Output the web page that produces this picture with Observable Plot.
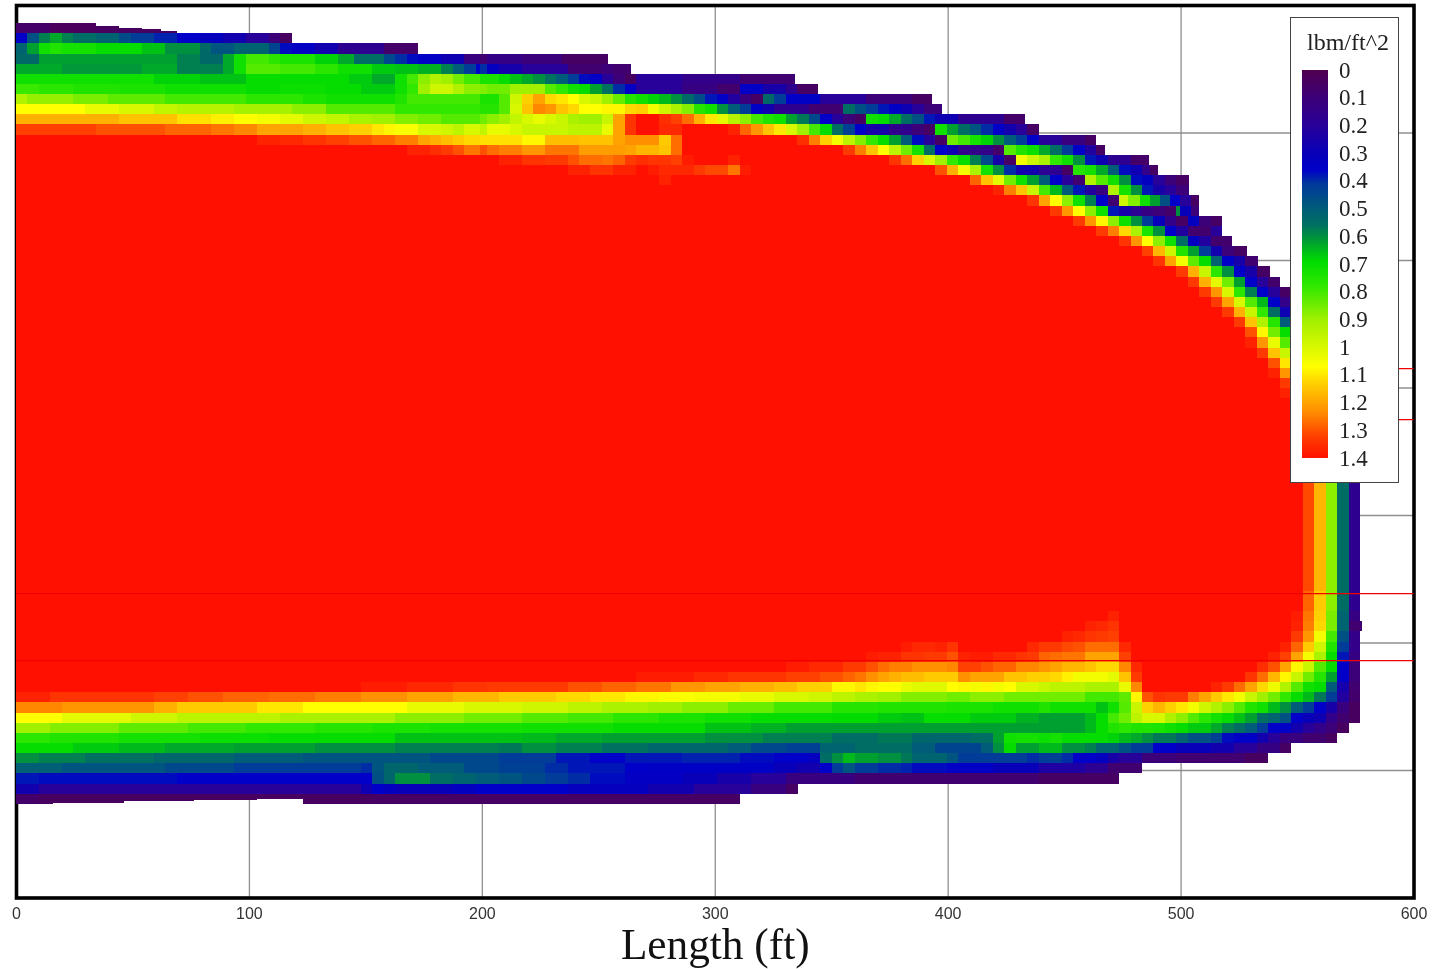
<!DOCTYPE html>
<html>
<head>
<meta charset="utf-8">
<script src="https://cdn.jsdelivr.net/npm/d3@7"></script>
<script src="https://cdn.jsdelivr.net/npm/@observablehq/plot@0.6"></script>
<style>
html,body{margin:0;padding:0;background:#fff}
#wrap{position:relative;width:1443px;height:969px;overflow:hidden;filter:blur(0.45px)}
#legend{position:absolute;left:1290px;top:17px;width:107px;height:464px;background:#fff;border:1.5px solid #444;font-family:"Liberation Serif",serif;color:#222}
#legend span{position:absolute;white-space:nowrap;line-height:1}
#legend .bar{position:absolute;left:10.5px;top:52px;width:26px;height:388px}
</style>
</head>
<body>
<div id="wrap"></div>
<script>
// Each row lists pairs: end column (exclusive), value in lbm/ft^2. Rows run from the top of the mesh down.
const r00=[3,.06,7,.03,9,.04,11,.04,12.6,.04,14,.04];
const r01=[1,.36,2,.47,3,.58,4,.63,5,.58,7,.55,9,.52,10,.46,12,.42,14,.39,16,.36,18,.32,20,.27,22,.2,23,.1,24,.04];
const r02=[1,.52,2,.62,3,.72,4,.75,7,.73,11,.7,13,.66,16,.6,17,.54,19,.48,22,.52,23,.44,24,.37,26,.34,28,.27,32,.17,35,.06];
const r03=[2,.54,14,.62,16,.58,18,.54,19,.63,20,.72,22,.8,23,.77,26,.74,28,.68,29.4,.63,32,.55,33,.45,34,.4,35,.37,37,.35,39,.28,40.4,.12,41,.08,44,.14,47.5,.11,51.5,.05];
const r04=[4,.63,11,.61,14,.63,18,.58,19,.63,20,.72,23,.82,26,.8,28,.77,31,.72,33,.67,35,.66,37,.64,38,.58,39,.5,40,.42,40.4,.36,41,.4,42,.33,44,.26,48,.2,51,.08,52,.1,53.5,.08];
const r05=[12,.72,16,.68,20,.66,29,.7,31,.67,33,.63,34,.72,35,.8,36,.88,37,.93,38,.9,39,.85,40.4,.8,42,.74,43,.7,44,.66,45,.63,46,.6,47,.56,48,.5,49,.42,50,.37,51,.35,52,.2,53,.1,54,.04,58,.2,63,.15,67.8,.08];
const r06=[2,.79,5,.77,9,.75,13,.74,20,.72,23,.7,27,.71,30,.7,33,.67,34,.72,35,.78,36,.9,38,.98,39,.93,40.4,.88,41,.87,43,.85,46,.9,47,.82,48,.78,49,.72,50,.7,51,.62,52,.56,53,.4,54,.35,58,.2,61,.13,63,.07,65,.35,67,.25,68,.17,69.8,.05];
const r07=[1,.93,5,.89,8,.86,13,.83,20,.8,25,.77,27,.74,33,.72,34,.75,40.4,.8,42,.74,43,.82,44,.98,45,1.13,46,1.2,47,1.12,48,1.1,49,1.07,50,1.0,51,.97,52,.9,53,.84,54,.76,55,.72,56,.68,57,.65,58,.6,59,.54,60,.46,61,.38,62,.35,63,.22,64,.12,65,.05,66,.54,67,.42,68,.36,70,.35,74,.2,78,.1,79.7,.05];
const r08=[6,1.07,9,1.03,12,1.0,14,.96,19,.94,24,.91,27,.88,33,.82,40.4,.78,42,.76,43,.82,44,1.0,45,1.15,46,1.24,47,1.22,48,1.15,49,1.12,51,1.07,53,1.08,54,1.12,55,1.13,56,1.05,57,.98,58,.92,59,.87,60,.76,61,.72,62,.6,63,.5,64,.42,65,.35,66,.27,69,.17,72,.08,73,.55,74,.47,75,.42,76,.38,77,.35,78,.28,79,.2,80.6,.1];
const r09=[9,1.18,14,1.15,17,1.11,19,1.09,21,1.07,23,1.05,25,1.02,27,.98,29,.96,31,.92,33,.9,35,.87,37,.85,40.4,.82,41,.85,42,.88,43,.9,44,.96,45,1.0,46,1.03,47,1.0,48,.97,49,.92,51,.9,52,.97,53,1.2,54,1.34,56,1.4,57,1.35,58,1.32,59,1.27,60,1.18,61,1.1,62,1.02,63,.94,64,.88,65,.8,66,.75,67,.72,68,.62,69,.57,70,.45,71,.36,72,.2,73,.1,74,.05,75,.72,76,.7,77,.63,78,.55,79,.47,80,.38,82,.28,86,.17,87.8,.06];
const r10=[7,1.32,13,1.3,17,1.28,19,1.26,21,1.24,25,1.2,27,1.18,29,1.15,31,1.13,32,1.1,33,1.08,35,1.06,37,1.0,38,.98,39,.95,40.4,1.0,41,.96,43,1.03,44,1.0,48,.97,51,.95,52,1.03,53,1.2,54,1.34,56,1.4,58,1.36,62,1.4,63,1.37,64,1.28,65,1.22,66,1.15,67,1.1,68,1.0,69,.9,70,.8,71,.7,72,.55,73,.43,74,.36,76,.25,78,.16,79,.1,80,.05,81,.72,82,.62,83,.55,84,.48,85,.4,86,.36,87,.27,88,.2,89,.05];
const r11=[21,1.4,23,1.37,25,1.36,27,1.34,29,1.32,31,1.3,33,1.28,35,1.25,36,1.2,37,1.18,38,1.16,39,1.14,40.4,1.12,44,1.11,46,1.08,49,1.16,52,1.15,53,1.2,56,1.23,57,1.14,58,1.27,68,1.4,69,1.35,70,1.25,71,1.13,72,1.05,73,.95,74,.87,75,.78,76,.7,77,.62,78,.5,79,.37,80,.2,81,.05,82,.85,83,.8,84,.73,85,.68,86,.6,87,.5,88,.42,89,.36,91,.2,93,.12,94,.05];
const r12=[34,1.4,36,1.37,37,1.35,38,1.33,39,1.3,40.4,1.26,41,1.3,42,1.27,44,1.25,46,1.22,49,1.26,53,1.21,54,1.2,56,1.17,57,1.15,58,1.27,72,1.4,73,1.33,74,1.25,75,1.15,76,1.07,77,.95,78,.85,79,.73,80,.55,81,.36,82,.28,85,.15,86,.06,87,.82,88,.75,89,.71,90,.63,91,.55,92,.42,93,.36,94,.22,94.8,.05];
const r13=[42,1.4,44,1.37,46,1.34,48,1.33,49,1.3,51,1.27,52,1.26,53,1.28,54,1.33,55,1.35,57,1.34,58,1.32,59,1.38,62,1.4,63,1.37,76,1.4,77,1.34,78,1.27,79,1.13,80,1.0,81,.9,82,.78,83,.7,84,.58,85,.45,86,.25,87,.05,88,1.05,89,.98,90,.92,91,.78,92,.72,93,.6,94,.38,95,.28,97,.17,98.6,.06];
const r14=[48,1.4,50,1.37,52,1.34,54,1.37,55,1.4,56,1.38,59,1.36,60,1.33,62,1.31,63,1.26,64,1.38,80,1.4,81,1.3,82,1.18,83,1.05,84,.92,85,.73,86,.6,87,.4,89,.27,91,.18,92,.05,93,.76,94,.73,95,.63,96,.5,97,.37,98,.28,98.7,.15,99.4,.05];
const r15=[56,1.4,57,1.37,83,1.4,84,1.28,85,1.15,86,1.02,87,.85,88,.72,89,.62,90,.5,91,.36,92,.2,93,.08,94,.93,95,.82,96,.72,97,.6,98,.37,99,.33,100,.2,101,.1,102.1,.05];
const r16=[85,1.4,86,1.37,87,1.25,88,1.15,89,.97,90,.8,91,.65,92,.5,93,.38,94,.22,95,.12,96,.93,97,.73,98,.6,99,.38,100,.25,101,.2,102.1,.1];
const r17=[88,1.4,89,1.34,90,1.2,91,1.07,92,.88,93,.72,94,.58,95,.36,96,.08,96.8,.98,97.8,.87,98.7,.72,99.6,.62,100.4,.47,101.3,.36,102.3,.2,103,.05];
const r18=[90,1.4,91,1.33,92,1.22,93,1.07,94,.88,95,.72,96,.38,97,.25,98,.18,99,.13,100,.1,101,.06,101.3,.6,102.3,.3,103,.1];
const r19=[92,1.4,93,1.33,94,1.22,95,1.08,96,.88,97,.72,98,.6,99,.42,100,.3,101,.15,102,.05,103,.33,104,.1,105,.05];
const r20=[94,1.4,95,1.33,96,1.25,97,1.12,98,.92,99,.74,100,.6,101,.36,102,.22,104,.07,105,.2];
const r21=[96,1.4,97,1.34,98,1.22,99,1.07,100,.88,101,.72,102,.55,103,.33,104,.22,105.8,.07];
const r22=[98,1.4,99,1.32,100,1.17,101,.98,102,.75,103,.62,104,.42,105,.27,106,.1,107.1,.05];
const r23=[99,1.4,100,1.34,101,1.2,102,1.05,103,.83,104,.7,105,.52,106,.35,107,.25,108.1,.08];
const r24=[101,1.4,102,1.33,103,1.18,104,.97,105,.77,106,.6,107,.36,108,.25,109.1,.05];
const r25=[102,1.4,103,1.33,104,1.18,105,1.02,106,.85,107,.62,108,.36,109,.2,110,.07];
const r26=[103,1.4,104,1.33,105,1.22,106,1.0,107,.77,108,.58,109,.36,110,.2,110.9,.05];
const r27=[104,1.4,105,1.33,106,1.2,107,1.0,108,.82,109,.65,110,.36,110.9,.15];
const r28=[105,1.4,106,1.33,107,1.18,108,.97,109,.78,110,.55,111,.28];
const r29=[106,1.4,107,1.33,108,1.15,109,.93,110,.76,111,.5];
const r30=[107,1.4,108,1.3,109,1.08,110,.85,111,.7];
const r31=[107,1.4,108,1.37,109,1.22,110,1.03,111,.82];
const r32=[108,1.4,109,1.33,110,1.15,111,.97];
const r33=[109,1.4,110,1.3,111,1.1];
const r34=[109,1.4,110,1.37,111,1.22];
const r35=[110,1.4,111,1.33];
const r36=[110,1.4,111,1.37];
const rFlank=[112,1.4,113,1.31,114,1.17,115,.88,116,.55,117,.17];
const r56=[112,1.4,113,1.28,114,1.14,115,.88,116,.55,117,.17];
const r58=[95,1.4,96,1.37,111,1.4,112,1.38,113,1.26,114,1.13,115,.86,116,.52,117,.13];
const r59=[93,1.4,94,1.37,95,1.36,96,1.34,111,1.4,112,1.37,113,1.25,114,1.12,115,.86,116,.52,117.15,.08];
const r60=[91,1.4,92,1.37,93,1.36,94,1.34,95,1.33,96,1.32,111,1.4,112,1.33,113,1.22,114,1.05,115,.8,116,.47,117,.15];
const r61=[77,1.4,78,1.38,80,1.36,81,1.37,82,1.34,88,1.4,89,1.36,91,1.33,92,1.31,93,1.3,96,1.27,97,1.36,110,1.4,111,1.37,112,1.28,113,1.14,114,.98,115,.75,116,.42,117,.15];
const r62=[74,1.4,75,1.38,77,1.37,79,1.34,81,1.33,82,1.3,83,1.37,85,1.38,87,1.36,88,1.34,89,1.33,90,1.28,91,1.27,93,1.26,96,1.2,97,1.32,109,1.4,110,1.37,111,1.32,112,1.2,113,1.05,114,.92,115,.7,116,.38,117,.13];
const r63=[67,1.4,69,1.38,72,1.36,74,1.33,75,1.3,76,1.27,78,1.25,81,1.23,82,1.24,84,1.32,85,1.3,87,1.28,89,1.24,90,1.22,91,1.2,93,1.17,94,1.15,96,1.12,97,1.24,98,1.36,108,1.4,109,1.35,110,1.3,111,1.2,112,1.08,113,.97,114,.82,115,.7,116,.36,117,.1];
const r64=[54,1.4,59,1.38,62,1.36,67,1.34,70,1.32,72,1.3,73,1.28,74,1.26,75,1.23,76,1.2,77,1.18,79,1.16,82,1.14,83,1.23,86,1.2,88,1.15,90,1.13,91,1.12,92,1.09,95,1.05,96,1.02,97,1.15,98,1.33,107,1.4,108,1.34,109,1.27,110,1.17,111,1.08,112,.97,113,.85,114,.76,115,.62,116,.36,117,.1];
const r65=[30,1.4,34,1.38,38,1.36,41,1.34,48,1.33,51,1.3,54,1.28,57,1.26,60,1.22,63,1.2,66,1.18,68,1.16,71,1.13,73,1.08,74,1.1,75,1.08,77,1.07,78,1.03,81,1.01,82,1.07,83,1.08,84,1.05,85,1.08,86,1.05,87,1.07,89,1.0,90,.97,93,.95,96,.92,97,1.03,98,1.24,104,1.4,105,1.37,106,1.33,107,1.27,108,1.2,109,1.12,110,1.04,111,.93,112,.82,113,.72,114,.7,115,.5,116,.26,117,.08];
const r66=[3,1.37,12,1.34,15,1.32,18,1.3,22,1.28,26,1.27,30,1.25,34,1.23,38,1.2,42,1.17,47,1.14,50,1.12,53,1.1,56,1.08,59,1.06,63,1.05,66,1.03,69,1.0,71,.98,73,.95,75,.92,77,.9,81,.87,83,.85,86,.88,89,.85,93,.85,96,.8,97,.83,98,1.08,99,1.3,100,1.34,102,1.33,103,1.25,104,1.2,105,1.14,106,1.1,107,1.05,108,.97,109,.9,110,.85,111,.78,112,.7,113,.65,114,.57,115,.42,116,.22,117,.07];
const r67=[4,1.24,12,1.22,14,1.18,21,1.14,25,1.1,34,1.07,39,1.03,44,1.0,48,.98,51,.95,55,.92,58,.9,62,.88,66,.84,71,.8,75,.76,81,.75,85,.74,89,.72,90,.75,94,.72,95,.66,96,.72,97,.82,98,.97,99,1.13,100,1.17,101,1.13,102,1.1,103,1.05,104,.98,105,.93,106,.88,107,.82,108,.75,109,.72,110,.65,111,.6,112,.5,113,.42,114,.36,115,.25,116,.12,117,.04];
const r68=[4,1.07,10,1.02,14,.98,23,.95,33,.92,39,.88,44,.85,48,.82,52,.8,56,.77,60,.74,64,.72,71,.7,75,.69,77,.67,79,.66,83,.7,87,.67,89,.64,93,.62,94,.65,95,.7,96,.8,97,.85,98,.95,99,1.0,100,1.0,101,.93,102,.88,103,.82,104,.77,105,.73,106,.7,107,.66,108,.62,109,.55,110,.52,111,.47,112,.36,113,.3,114,.28,115,.15,116,.08,117,.04];
const r69=[3,.9,9,.87,15,.83,20,.8,26,.78,31,.76,36,.74,44,.73,52,.72,60,.7,64,.66,67,.64,89,.62,93,.62,94,.65,95,.7,96,.75,97,.77,99,.75,100,.74,101,.72,102,.7,104,.67,105,.63,106,.58,107,.55,108,.5,109,.42,110,.36,111,.35,112,.27,113,.2,114,.15,115,.1,116,.04];
const r70=[3,.77,9,.75,16,.73,22,.71,33,.7,44,.66,47,.65,51,.63,60,.62,65,.6,71,.58,75,.55,78,.57,83,.53,85,.55,86,.62,87,.72,89,.73,90,.71,91,.73,95,.7,96,.68,97,.65,98,.63,99,.6,101,.57,102,.52,104,.47,105,.43,106,.37,108,.35,109,.27,110,.2,112,.12,114,.08,115,.04];
const r71=[5,.7,9,.67,13,.65,19,.63,26,.62,33,.6,42,.58,44,.57,47,.6,51,.58,55,.56,62,.53,64,.5,67,.45,70,.43,73,.52,78,.55,80,.5,84,.44,85,.5,86,.6,87,.7,89,.62,91,.65,93,.6,94,.58,96,.52,97,.47,99,.42,101,.36,104,.3,106,.27,108,.2,110,.13,111,.05];
const r72=[2,.6,6,.58,12,.56,19,.53,25,.5,36,.48,42,.45,47,.42,50,.38,53,.36,58,.38,63,.39,66,.37,69,.36,70,.33,71,.55,72,.6,73,.65,75,.62,77,.6,78,.57,81,.52,82,.48,88,.42,89,.4,90,.42,91,.43,92,.4,94,.36,95,.33,96,.25,98,.2,101,.1,107,.08,109,.04];
const r73=[4,.51,13,.48,19,.45,30,.42,31,.4,32,.48,35,.53,39,.5,42,.45,46,.43,48,.4,53,.38,55,.36,66,.35,68,.3,70,.27,71,.36,72,.42,73,.48,75,.42,77,.4,78,.39,81,.37,85,.35,89,.3,93,.23,95,.18,98,.08];
const r74=[2,.38,14,.37,31,.36,32,.47,33,.53,36,.6,38,.55,40,.52,42,.5,44,.48,46,.45,48,.42,50,.4,53,.37,58,.34,61,.3,64,.25,67,.2,73,.12,89,.08,96,.05];
const r75=[2,.27,30,.2,31,.28,32,.36,33,.33,38,.3,40,.33,48,.36,55,.32,59,.27,64,.2,67,.12,68.1,.05];
const r76=[2,.06,3.2,.04,9.4,.04,15.5,.04,21,.04,25,.04,31,.04,63,.05];

const rows=[r00,r01,r02,r03,r04,r05,r06,r07,r08,r09,r10,r11,r12,r13,r14,r15,r16,r17,r18,r19,r20,r21,r22,r23,r24,r25,r26,r27,r28,r29,r30,r31,r32,r33,r34,r35,r36,
  rFlank,rFlank,rFlank,rFlank,rFlank,rFlank,rFlank,rFlank,rFlank,rFlank,rFlank,rFlank,rFlank,rFlank,rFlank,rFlank,rFlank,rFlank,rFlank,
  r56,r56,r58,r59,r60,r61,r62,r63,r64,r65,r66,r67,r68,r69,r70,r71,r72,r73,r74,r75,r76];

// Ragged outer edge: [end column, how far the edge is drawn in, ft]
const topEdge=[[9,1.2],[11,2.0],[12.6,2.5],[14,3.1]];
const bottomEdge=[[9.4,.3],[15.5,.9],[21,1.4],[25,1.9]];

const colWidthFt=4.933, rowHeightFt=3.976, meshTopFt=342.9;
const xTicks=[0,100,200,300,400,500,600];
const yTicks=[0,50,100,150,200,250,300,350];
const legendLabels=[0,.1,.2,.3,.4,.5,.6,.7,.8,.9,1,1.1,1.2,1.3,1.4];
const colorDomain=[0,.1,.2,.3,.36,.41,.5,.56,.62,.69,.78,.9,1,1.07,1.13,1.23,1.32,1.4];
const colorRange=["#500050","#3c0078","#28009a","#0800b8","#0000c8","#00389c","#005c78","#007060","#00a030","#00dc00","#30e800","#a0f000","#d8f800","#ffff00","#ffd000","#ff9000","#ff4000","#ff1000"];
// Red section lines: [y ft, from x ft, to x ft]
const sectionLines=[[207.6,580,600],[187.6,580,600],[119.4,0,600],[93.1,0,600]];

const cells=[];
rows.forEach((runs,k)=>{
  let start=0;
  for(let i=0;i<runs.length;i+=2){
    const end=runs[i], v=runs[i+1];
    let top=meshTopFt-k*rowHeightFt, bottom=meshTopFt-(k+1)*rowHeightFt;
    if(k===0){const e=topEdge.find(d=>d[0]===end); if(e) top-=e[1];}
    if(k===rows.length-1){const e=bottomEdge.find(d=>d[0]===end); if(e) bottom+=e[1];}
    cells.push({x1:start*colWidthFt,x2:end*colWidthFt,y1:bottom,y2:top,v});
    start=end;
  }
});

const chart=Plot.plot({
  width:1443,height:969,
  marginLeft:16,marginRight:29.5,marginTop:5,marginBottom:71.5,
  style:{background:"transparent"},
  x:{domain:[0,600],axis:null},
  y:{domain:[0,350],axis:null},
  color:{type:"linear",domain:colorDomain,range:colorRange,interpolate:"rgb"},
  marks:[
    Plot.ruleX(xTicks,{stroke:"#8f8f8f",strokeWidth:1.3}),
    Plot.ruleY(yTicks,{stroke:"#8f8f8f",strokeWidth:1.3}),
    Plot.frame({stroke:"#000",strokeWidth:3.6}),
    Plot.rect(cells,{x1:"x1",x2:"x2",y1:"y1",y2:"y2",fill:"v",shapeRendering:"crispEdges"}),
    Plot.ruleY(sectionLines,{y:d=>d[0],x1:d=>d[1],x2:d=>d[2],stroke:"#f00000",strokeWidth:1.2}),
    Plot.axisX(xTicks,{anchor:"bottom",tickSize:0,tickPadding:10,fontSize:16,fontFamily:"Liberation Sans",fill:"#333",label:null}),
    Plot.text(["Length (ft)"],{frameAnchor:"bottom",dy:61,fontSize:43.3,fontFamily:"Liberation Serif",fill:"#111"})
  ]
});

const wrap=document.getElementById("wrap");
wrap.appendChild(chart);

const legend=document.createElement("div");
legend.id="legend";
const bar=document.createElement("div");
bar.className="bar";
const stops=colorDomain.map((d,i)=>`${colorRange[i]} ${(d/1.4*100).toFixed(2)}%`).join(",");
bar.style.background=`linear-gradient(to bottom,${stops})`;
legend.appendChild(bar);
const title=document.createElement("span");
title.textContent="lbm/ft^2";
title.style.cssText="left:16px;top:12px;font-size:24px";
legend.appendChild(title);
const pos=d3.scaleLinear().domain([0,1.4]).range([52,440]);
legendLabels.forEach(v=>{
  const s=document.createElement("span");
  s.textContent=String(v);
  s.style.cssText=`left:48px;top:${pos(v)-11.5}px;font-size:23px`;
  legend.appendChild(s);
});
wrap.appendChild(legend);
</script>
</body>
</html>
